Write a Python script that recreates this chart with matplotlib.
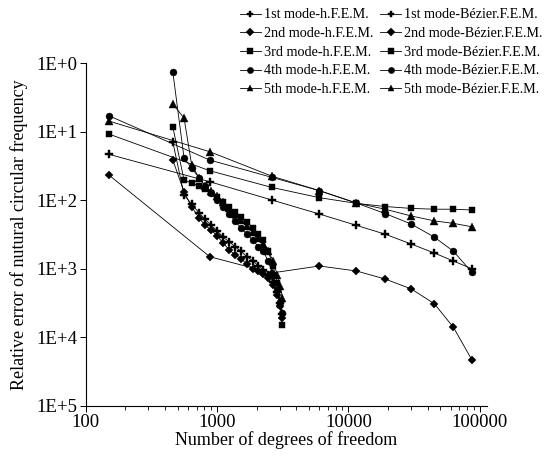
import matplotlib
matplotlib.use("Agg")
import matplotlib.pyplot as plt
from matplotlib.ticker import FixedLocator, FixedFormatter, LogLocator, NullFormatter

plt.rcParams['font.family'] = ['Liberation Serif', 'DejaVu Serif']

# Bezier F.E.M. degrees of freedom
bez_dof = [150, 880, 2600, 6000, 11500, 19000, 30000, 45000, 63000, 87000]
bez_m1 = [0.0467, 0.0186, 0.0101, 0.0063, 0.0043, 0.0032, 0.0023, 0.0017, 0.0013, 0.0010]
bez_m2 = [0.0233, 0.0015, 0.00087, 0.0011, 0.00093, 0.00071, 0.00051, 0.00031, 0.00014, 0.000047]
bez_m3 = [0.0923, 0.0269, 0.0154, 0.0109, 0.0090, 0.0081, 0.0076, 0.0074, 0.0074, 0.0072]
bez_m4 = [0.1705, 0.0385, 0.0216, 0.0138, 0.0091, 0.0064, 0.0045, 0.0029, 0.0018, 0.00089]
bez_m5 = [0.1427, 0.0509, 0.0225, 0.0138, 0.0091, 0.0074, 0.0059, 0.0050, 0.0046, 0.0041]

# h F.E.M. degrees of freedom
h_dof = [460, 560, 640, 730, 810, 900, 1000, 1110, 1230, 1370, 1520, 1690, 1880, 2060,
         2240, 2450, 2670, 2870, 3030, 3140]
h_m1 = [0.0705, 0.0119, 0.0088, 0.0065, 0.0053, 0.0043, 0.0036, 0.0029, 0.0025, 0.0021,
        0.0018, 0.0015, 0.0013, 0.0011, 0.00096, 0.00081, 0.00064, 0.00046, 0.00032, 0.00022]
h_m2 = [0.0385, 0.0132, 0.0080, 0.0055, 0.0043, 0.0037, 0.0030, 0.0024, 0.0019, 0.0016,
        0.0014, 0.00117, 0.0010, 0.00093, 0.00084, 0.00073, 0.00058, 0.00042, 0.00029, 0.00019]
h_m3 = [0.1167, 0.0197, 0.0178, 0.0161, 0.0146, 0.0127, 0.0111, 0.0094, 0.0080, 0.0067,
        0.0057, 0.0048, 0.0039, 0.0032, 0.0026, 0.0018, 0.0011, 0.00062, 0.00030, 0.00015]
h_m4 = [0.7393, 0.0412, 0.0295, 0.0211, 0.0161, 0.0127, 0.0101, 0.0080, 0.0063, 0.0050,
        0.0039, 0.0032, 0.0026, 0.0021, 0.0018, 0.0013, 0.00081, 0.00049, 0.00033, 0.00023]
h_m5 = [0.2525, 0.1579, 0.0326, 0.0211, 0.0161, 0.0136, 0.0115, 0.0094, 0.0077, 0.0063,
        0.0051, 0.0042, 0.0034, 0.0028, 0.0023, 0.0018, 0.0013, 0.00081, 0.00056, 0.00038]

mode_names = ["1st", "2nd", "3rd", "4th", "5th"]
markers = ["P", "D", "s", "o", "^"]
marker_sizes = [5.5, 4.5, 5, 5, 5.5]

y_ticks = [1e0, 1e-1, 1e-2, 1e-3, 1e-4, 1e-5]
y_tick_labels = ["1E+0", "1E+1", "1E+2", "1E+3", "1E+4", "1E+5"]
x_ticks = [100, 1000, 10000, 100000]
x_tick_labels = ["100", "1000", "10000", "100000"]

fig = plt.figure(figsize=(5.57, 4.57), dpi=100)
ax = fig.add_axes([0.154, 0.1116, 0.72, 0.7504])

h_series = [h_m1, h_m2, h_m3, h_m4, h_m5]
bez_series = [bez_m1, bez_m2, bez_m3, bez_m4, bez_m5]

handles = []
labels = []
for i, ys in enumerate(h_series):
    ln, = ax.plot(h_dof, ys, color="black", lw=0.6, marker=markers[i],
                  ms=marker_sizes[i], mfc="black", mec="black", mew=0.3)
    handles.append(ln)
    labels.append(f"{mode_names[i]} mode-h.F.E.M.")
for i, ys in enumerate(bez_series):
    ln, = ax.plot(bez_dof, ys, color="black", lw=0.6, marker=markers[i],
                  ms=marker_sizes[i], mfc="black", mec="black", mew=0.3)
    handles.append(ln)
    labels.append(f"{mode_names[i]} mode-Bézier.F.E.M.")

ax.set_xscale("log")
ax.set_yscale("log")
ax.set_xlim(100, 113000)
ax.set_ylim(1e-5, 1e0)

ax.yaxis.set_major_locator(FixedLocator(y_ticks))
ax.yaxis.set_major_formatter(FixedFormatter(y_tick_labels))
ax.yaxis.set_minor_locator(FixedLocator([]))
ax.xaxis.set_major_locator(FixedLocator(x_ticks))
ax.xaxis.set_major_formatter(FixedFormatter(x_tick_labels))
ax.xaxis.set_minor_locator(LogLocator(base=10, subs=range(2, 10)))
ax.xaxis.set_minor_formatter(NullFormatter())

for s in ["top", "right"]:
    ax.spines[s].set_visible(False)
for s in ["left", "bottom"]:
    ax.spines[s].set_linewidth(0.8)

ax.tick_params(axis="both", which="major", direction="out", length=4, width=0.7,
               labelsize=13.5, pad=2)
ax.tick_params(axis="x", which="minor", direction="out", length=3, width=0.6)

ax.set_xlabel("Number of degrees of freedom", fontsize=13, labelpad=0)
ax.set_ylabel("Relative error of nutural circular frequency", fontsize=13, labelpad=6)

fig.legend(handles, labels, ncol=2, loc="upper left", bbox_to_anchor=(0.415, 1.0),
           frameon=False, fontsize=10.2, handlelength=1.5, handletextpad=0.2,
           columnspacing=0.5, labelspacing=0.4, borderaxespad=0.2, markerscale=0.9)

fig.savefig("out.png", dpi=100)
